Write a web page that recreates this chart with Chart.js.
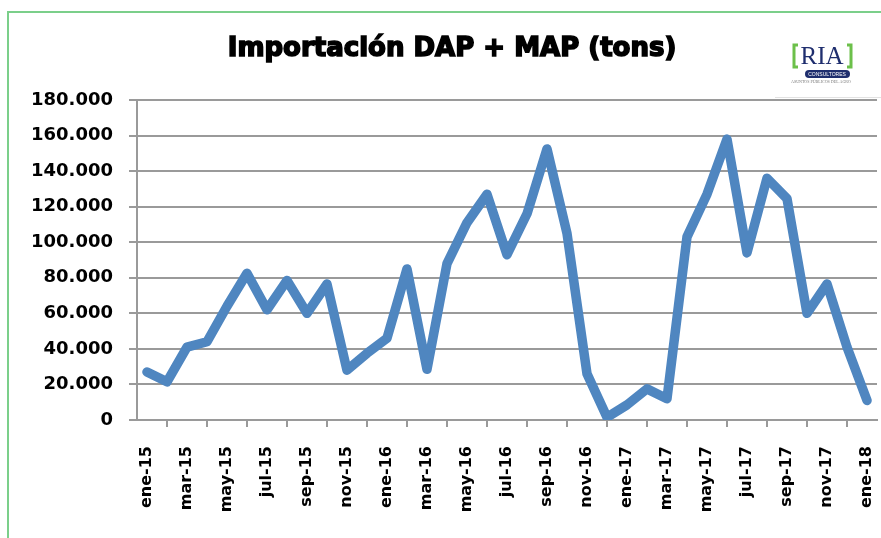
<!DOCTYPE html>
<html>
<head>
<meta charset="utf-8">
<script src="https://cdn.jsdelivr.net/npm/chart.js@4.4.0/dist/chart.umd.min.js"></script>
<style>
  body { margin: 0; background: #fff; }
</style>
</head>
<body>
<canvas id="mycanvas" width="881" height="538"></canvas>
<script>
// monthly imports, ene-15 .. ene-18
const months = ['ene','feb','mar','abr','may','jun','jul','ago','sep','oct','nov','dic'];
const years = ['15','16','17'];
const labels = [];
for (var y in years) {
  for (var m in months) {
    labels.push(months[m] + '-' + years[y]);
  }
}
labels.push('ene-18');

const tons = [27000, 21500, 41000, 44000, 64000, 82500, 62000, 78500, 60000, 76500, 28000, 37500,
              46000, 85000, 28500, 88000, 111000, 127000, 93000, 116000, 152500, 105000, 26000, 1500,
              8500, 17500, 12000, 103000, 127000, 158000, 94000, 136000, 124500, 60000, 76500, 41000,
              11000];

const chartTitle = 'Importación DAP + MAP (tons)';
const yMax = 180000;
const yStep = 20000;

function fmt(v) {
  if (v === 0) return '0';
  return String(v).replace(/\B(?=(\d{3})+(?!\d))/g, '.');
}

// background, green frame, title and the RIA logo
const decor = {
  id: 'decor',
  beforeDraw: function(chart) {
    const c = chart.ctx;
    c.save();
    c.fillStyle = '#fff';
    c.fillRect(0, 0, chart.width, chart.height);
    c.strokeStyle = '#7bcf8a';
    c.lineWidth = 2;
    c.beginPath();
    c.moveTo(8, 538);
    c.lineTo(8, 12);
    c.lineTo(881, 12);
    c.stroke();
    c.restore();
  },
  afterDraw: function(chart) {
    const c = chart.ctx;
    c.save();
    c.fillStyle = '#000';
    c.font = 'bold 26px "DejaVu Sans"';
    c.textAlign = 'center';
    c.textBaseline = 'middle';
    c.strokeStyle = '#000';
    c.lineWidth = 1.6;
    c.fillText(chartTitle, 452, 49);
    c.strokeText(chartTitle, 452, 49);

    // logo
    c.strokeStyle = '#6cc04a';
    c.lineWidth = 3;
    c.beginPath();
    c.moveTo(798, 45); c.lineTo(794, 45); c.lineTo(794, 67); c.lineTo(798, 67);
    c.moveTo(847, 45); c.lineTo(851, 45); c.lineTo(851, 67); c.lineTo(847, 67);
    c.stroke();
    c.fillStyle = '#1f2e6e';
    c.font = '25px "Liberation Serif"';
    c.fillText('RIA', 822, 57);
    c.beginPath();
    c.roundRect(805, 70, 45, 8, 4);
    c.fill();
    c.fillStyle = '#fff';
    c.font = '5px "Liberation Sans"';
    c.fillText('CONSULTORES', 827, 74.2);
    c.fillStyle = '#777';
    c.font = '4px "Liberation Serif"';
    c.fillText('ASUNTOS PÚBLICOS DEL AGRO', 821, 82);
    c.strokeStyle = '#e2e2e2';
    c.lineWidth = 1;
    c.beginPath();
    c.moveTo(775, 97.5); c.lineTo(881, 97.5);
    c.stroke();
    c.restore();
  }
};

const ctx = document.getElementById('mycanvas');

const lineChart = new Chart(ctx, {
  type: 'line',
  data: {
    labels: labels,
    datasets: [{
      label: 'tons',
      data: tons,
      borderColor: '#4f86c0',
      backgroundColor: '#4f86c0',
      borderWidth: 9.5,
      borderJoinStyle: 'round',
      borderCapStyle: 'round',
      pointRadius: 0,
      tension: 0
    }]
  },
  options: {
    responsive: false,
    animation: false,
    layout: { padding: { left: 15, top: 100, right: 4, bottom: 0 } },
    plugins: {
      legend: { display: false },
      title: { display: false },
      tooltip: { enabled: false }
    },
    scales: {
      x: {
        offset: true,
        afterFit: function(scale) {
          scale.height = 118;
          scale.paddingLeft = 0;
          scale.paddingRight = 0;
        },
        grid: {
          offset: true,
          drawOnChartArea: false,
          color: '#9a9a9a',
          lineWidth: 2,
          tickLength: 7
        },
        border: { color: '#9a9a9a', width: 2 },
        ticks: {
          autoSkip: false,
          minRotation: 90,
          maxRotation: 90,
          padding: 19,
          color: '#000',
          font: { family: 'DejaVu Sans', weight: 'bold', size: 16 },
          callback: function(val, index) {
            return index % 2 === 0 ? this.getLabelForValue(val) : null;
          }
        }
      },
      y: {
        min: 0,
        max: yMax,
        grid: {
          color: '#9a9a9a',
          lineWidth: 2,
          tickLength: 8
        },
        border: { color: '#9a9a9a', width: 2 },
        ticks: {
          stepSize: yStep,
          padding: 16,
          color: '#000',
          font: { family: 'DejaVu Sans', weight: 'bold', size: 18 },
          callback: function(v) { return fmt(v); }
        }
      }
    }
  },
  plugins: [decor]
});
</script>
</body>
</html>
